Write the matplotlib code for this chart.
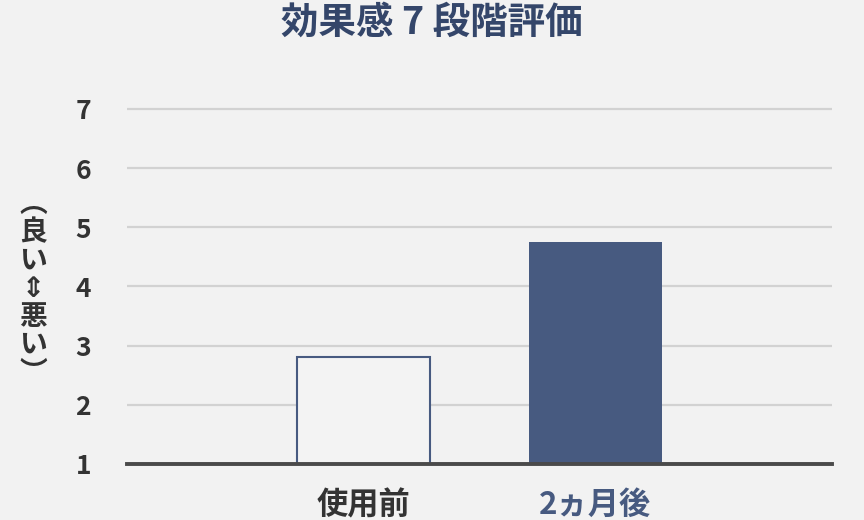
import matplotlib
matplotlib.use("Agg")
import matplotlib.pyplot as plt

plt.rcParams['font.family'] = ['Noto Sans CJK JP', 'DejaVu Sans']

categories = ["使用前", "2ヵ月後"]
values = [2.8, 4.75]
yticks = [1, 2, 3, 4, 5, 6, 7]
title = "効果感 7 段階評価"
ylabel_chars = ["︵", "良", "い", "⇕", "悪", "い", "︶"]

BG = "#f2f2f2"
NAVY = "#475a80"
TITLE_C = "#34466a"
DARK = "#333333"

fig = plt.figure(figsize=(8.64, 5.2), dpi=100, facecolor=BG)
ax = fig.add_axes([127/864, 1-464/520, (832-127)/864, (464-106)/520])
ax.set_facecolor(BG)

x = list(range(len(categories)))
bars = ax.bar(x, values, bottom=0, width=0.573, zorder=3)
bars[0].set_facecolor("#f3f3f3")
bars[0].set_edgecolor(NAVY)
bars[0].set_linewidth(1.5)
bars[1].set_facecolor(NAVY)
bars[1].set_edgecolor(NAVY)
bars[1].set_linewidth(0)

ax.set_xlim(-1.02, 2.02)
ax.set_ylim(1, 7.05)
ax.set_yticks(yticks)
ax.set_yticklabels([str(t) for t in yticks], fontsize=19, fontweight='bold', color=DARK)
ax.yaxis.grid(True, color="#d2d2d2", linewidth=1.6, zorder=0)
ax.set_axisbelow(True)
ax.tick_params(axis='y', length=0, pad=26)
ax.set_xticks(x)
ax.set_xticklabels(categories, fontsize=22.5, fontweight='bold')
ax.get_xticklabels()[0].set_color(DARK)
ax.get_xticklabels()[1].set_color(NAVY)
ax.tick_params(axis='x', length=0, pad=18)

for s in ['top', 'right', 'left']:
    ax.spines[s].set_visible(False)
ax.spines['bottom'].set_color("#4a4a4a")
ax.spines['bottom'].set_linewidth(2.8)
ax.spines['bottom'].set_zorder(4)

fig.text(0.5, 1-22/520, title, ha='center', va='center', fontsize=27,
         fontweight='bold', color=TITLE_C)

y0 = 204
step = 28.2
for i, ch in enumerate(ylabel_chars):
    fig.text(33/864, 1-(y0+i*step)/520, ch, ha='center', va='center',
             fontsize=20, fontweight='bold', color=DARK)

fig.savefig("out.png", dpi=100, facecolor=BG)
